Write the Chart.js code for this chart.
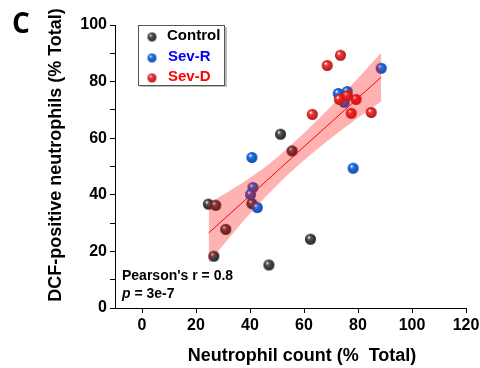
<!DOCTYPE html>
<html>
<head>
<meta charset="utf-8">
<script src="https://cdn.jsdelivr.net/npm/chart.js@4.4.1/dist/chart.umd.min.js"></script>
<style>
  body { margin: 0; background: #fff; }
  #wrap { width: 480px; height: 368px; position: relative; }
</style>
</head>
<body>
<div id="wrap"><canvas id="grafico"></canvas></div>
<script>
// Datos
var controlX = [24.6, 27.3, 40.7, 31.0, 26.6, 62.4, 47.0, 51.3, 55.6];
var controlY = [36.7, 36.3, 36.9, 27.8, 18.3, 24.3, 15.2, 61.4, 55.5];
var sevRX = [40.7, 78.2, 41.1, 40.2, 42.7, 88.6, 72.7, 76.0, 74.9];
var sevRY = [53.2, 49.4, 42.6, 40.1, 35.5, 84.7, 75.8, 76.5, 72.7];
var sevDX = [73.5, 68.6, 73.1, 79.3, 77.5, 84.9, 63.1, 76.0];
var sevDY = [89.3, 85.7, 73.7, 73.7, 68.8, 69.1, 68.4, 75.0];

// recta de ajuste y banda de confianza
var fitX = [24.7, 30, 40, 50, 60, 70, 80, 88.6];
var fitY = [26.5, 31.1, 39.7, 48.3, 57.0, 65.6, 74.2, 81.6];
var bandUpper = [37.1, 40.0, 46.0, 53.2, 61.8, 71.2, 81.2, 90.2];
var bandLower = [15.9, 22.2, 33.4, 43.4, 52.2, 60.0, 67.2, 73.0];

var xTicks = [0, 20, 40, 60, 80, 100, 120];
var yTicks = [0, 10, 20, 30, 40, 50, 60, 70, 80, 90, 100];

var seriesNames = ['Control', 'Sev-R', 'Sev-D'];

var fuente = '"Liberation Sans", Arial, sans-serif';

function pares(xs, ys) {
  var out = [];
  for (var i = 0; i < xs.length; i++) out.push({ x: xs[i], y: ys[i] });
  return out;
}

// bolita con brillo
function esfera(base, borde, r) {
  var c = document.createElement('canvas');
  c.width = c.height = r * 2 + 2;
  var g = c.getContext('2d');
  var cx = r + 1;
  var grad = g.createRadialGradient(cx - r * 0.35, cx - r * 0.4, r * 0.05, cx, cx, r);
  grad.addColorStop(0, '#ffffff');
  grad.addColorStop(0.3, base);
  grad.addColorStop(1, borde);
  g.fillStyle = grad;
  g.beginPath();
  g.arc(cx, cx, r, 0, Math.PI * 2);
  g.fill();
  return c;
}

var bolaGris = esfera('#555555', '#222222', 5.5);
var bolaAzul = esfera('#2277ee', '#0d47a8', 5.5);
var bolaRoja = esfera('#f03c3c', '#b01818', 5.5);

var extras = {
  id: 'extras',
  afterDraw: function (chart) {
    var ctx = chart.ctx;
    ctx.save();
    ctx.fillStyle = '#000';

    // letra del panel
    ctx.font = 'bold 28px "Open Sans", sans-serif';
    ctx.textBaseline = 'alphabetic';
    ctx.textAlign = 'left';
    ctx.fillText('C', 12, 33);

    // titulos de ejes
    ctx.font = 'bold 18px ' + fuente;
    ctx.textAlign = 'center';
    ctx.textBaseline = 'middle';
    ctx.fillText('Neutrophil count (%  Total)', 302, 356);
    ctx.save();
    ctx.translate(56, 155);
    ctx.rotate(-Math.PI / 2);
    ctx.fillText('DCF-positive neutrophils (% Total)', 0, 0);
    ctx.restore();

    // estadistica
    ctx.textAlign = 'left';
    ctx.font = 'bold 14px ' + fuente;
    ctx.fillText("Pearson's r = 0.8", 122, 276);
    ctx.font = 'italic bold 14px ' + fuente;
    ctx.fillText('p', 122, 294);
    var w = ctx.measureText('p').width;
    ctx.font = 'bold 14px ' + fuente;
    ctx.fillText(' = 3e-7', 122 + w, 294);

    // leyenda
    ctx.fillStyle = '#bbbbbb';
    ctx.fillRect(140, 85, 87, 2);
    ctx.fillRect(225, 27, 2, 60);
    ctx.fillStyle = '#fff';
    ctx.fillRect(138, 25, 87, 61);
    ctx.strokeStyle = '#555';
    ctx.lineWidth = 1;
    ctx.strokeRect(138.5, 25.5, 86, 60);
    var bolas = [esfera('#555555', '#222222', 4.5), esfera('#2277ee', '#0d47a8', 4.5), esfera('#f03c3c', '#b01818', 4.5)];
    var colores = ['#000000', '#0000ff', '#ff0000'];
    var filas = [36, 57, 77];
    ctx.font = 'bold 15px ' + fuente;
    for (var i = 0; i < seriesNames.length; i++) {
      ctx.drawImage(bolas[i], 152 - bolas[i].width / 2, filas[i] + 1 - bolas[i].height / 2);
      ctx.fillStyle = colores[i];
      ctx.fillText(seriesNames[i], i == 0 ? 167 : 168, filas[i]);
    }
    ctx.restore();
  }
};

new Chart(document.getElementById('grafico'), {
  type: 'scatter',
  data: {
    datasets: [
      {
        type: 'line',
        label: 'fit',
        data: pares(fitX, fitY),
        borderColor: '#ff0000',
        borderWidth: 1,
        pointRadius: 0,
        fill: false,
        cubicInterpolationMode: 'monotone',
        order: 0
      },
      {
        type: 'line',
        label: 'upper',
        data: pares(fitX, bandUpper),
        borderWidth: 0,
        borderColor: 'rgba(0,0,0,0)',
        pointRadius: 0,
        fill: false,
        cubicInterpolationMode: 'monotone',
        order: 1
      },
      {
        type: 'line',
        label: 'lower',
        data: pares(fitX, bandLower),
        borderWidth: 0,
        borderColor: 'rgba(0,0,0,0)',
        backgroundColor: 'rgba(255,0,0,0.3)',
        pointRadius: 0,
        fill: '-1',
        cubicInterpolationMode: 'monotone',
        order: 1
      },
      { label: seriesNames[2], data: pares(sevDX, sevDY), pointStyle: bolaRoja, order: 2 },
      { label: seriesNames[1], data: pares(sevRX, sevRY), pointStyle: bolaAzul, order: 3 },
      { label: seriesNames[0], data: pares(controlX, controlY), pointStyle: bolaGris, order: 4 }
    ]
  },
  options: {
    responsive: true,
    maintainAspectRatio: false,
    animation: false,
    layout: { padding: { top: 25, right: 14, left: 0, bottom: 0 } },
    plugins: {
      legend: { display: false },
      tooltip: { enabled: false }
    },
    scales: {
      x: {
        type: 'linear',
        min: -10,
        max: 120,
        afterBuildTicks: function (s) { s.ticks = xTicks.map(function (v) { return { value: v }; }); },
        afterFit: function (s) { s.height = 60; s.paddingLeft = 0; s.paddingRight = 0; },
        ticks: { color: '#000', font: { family: fuente, size: 16, weight: 'bold' }, padding: 3, maxRotation: 0, autoSkip: false },
        grid: { drawOnChartArea: false, drawTicks: true, tickLength: 5, color: '#000' },
        border: { color: '#000', width: 1 }
      },
      y: {
        type: 'linear',
        min: 0,
        max: 100,
        afterBuildTicks: function (s) { s.ticks = yTicks.map(function (v) { return { value: v }; }); },
        afterFit: function (s) { s.width = 115; s.paddingTop = 0; s.paddingBottom = 0; },
        ticks: {
          color: '#000',
          font: { family: fuente, size: 16, weight: 'bold' },
          padding: 3,
          autoSkip: false,
          callback: function (v) { return v % 20 === 0 ? v : ''; }
        },
        grid: { drawOnChartArea: false, drawTicks: true, tickLength: 5, color: '#000' },
        border: { color: '#000', width: 1 }
      }
    }
  },
  plugins: [extras]
});
</script>
</body>
</html>
